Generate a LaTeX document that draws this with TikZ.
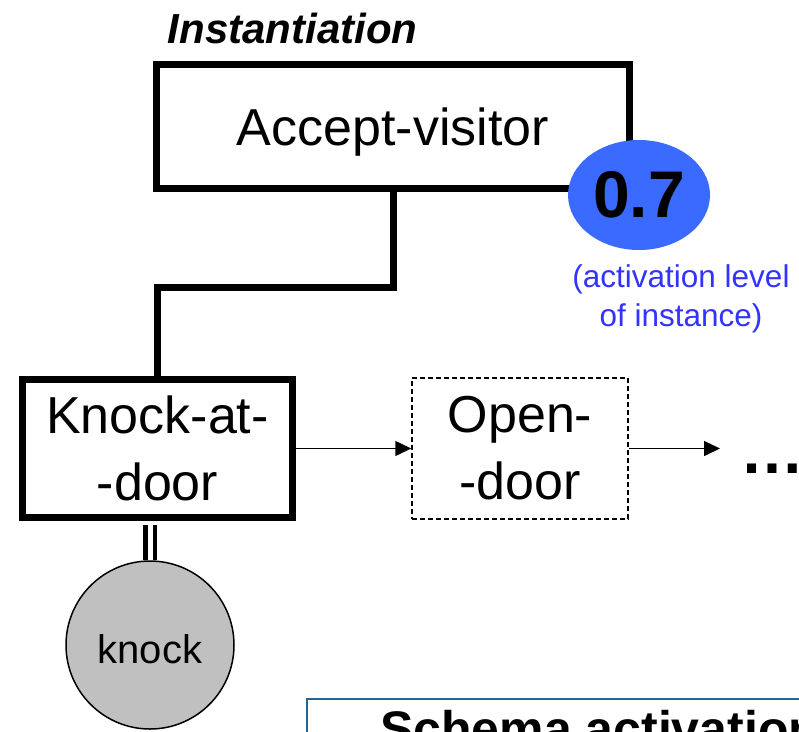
\documentclass[tikz,border=0pt]{standalone}
\usepackage{fontspec}
\setmainfont{Liberation Sans}
\usetikzlibrary{arrows.meta,shapes.geometric}
\definecolor{levelblue}{RGB}{58,106,255}
\definecolor{notetext}{RGB}{51,51,255}
\definecolor{paneledge}{RGB}{40,100,145}
\definecolor{inputgrey}{RGB}{192,192,192}
\tikzset{
  schemabox/.style={draw, line width=7pt, inner sep=0pt, fill=white},
  nextbox/.style={draw, dash pattern=on 5pt off 3pt, line width=1.5pt, inner sep=0pt},
  bigtext/.style={font=\fontsize{52}{67}\selectfont, align=center},
  flow/.style={line width=1.5pt, -{Triangle[length=16pt,width=15pt]}},
  hier/.style={line width=7pt, line join=miter},
  inputlink/.style={line width=4.5pt, double=white, double distance=5pt},
}
\begin{document}
\begin{tikzpicture}[x=1pt,y=-1pt]
  \useasboundingbox (0,0) rectangle (799,731);
  \clip (0,0) rectangle (799,731);

  % heading
  \node[font=\fontsize{42}{42}\selectfont\bfseries\itshape, anchor=base, inner sep=0pt]
    (title) at (292.5,43) {Instantiation};

  % schema instances
  \node[schemabox, bigtext, minimum width=473pt, minimum height=124pt, text depth=0pt]
    (accept) at (393,126.5) {Accept-visitor};
  \node[schemabox, bigtext, minimum width=270pt, minimum height=138pt]
    (knockdoor) at (157.5,448.5) {Knock-at-\\-door};
  \node[nextbox, bigtext, minimum width=216pt, minimum height=141pt]
    (opendoor) at (520,448.5) {Open-\\-door};

  % activation level of the instance
  \node[ellipse, fill=levelblue, minimum width=142pt, minimum height=110pt, inner sep=0pt,
        font=\fontsize{66}{66}\selectfont\bfseries]
    (level) at (639,195) {0.7};
  \node[text=notetext, font=\fontsize{31.5}{39}\selectfont, align=center, inner sep=0pt]
    (levelnote) at (681,299) {(activation level\\of instance)};

  % sensory input
  \node[circle, draw, line width=1.5pt, fill=inputgrey, minimum size=168pt, inner sep=0pt,
        font=\fontsize{40}{40}\selectfont, text height=36pt, text depth=0pt]
    (knockin) at (150,645) {knock};

  % continuation of the sequence
  \node[font=\fontsize{64}{64}\selectfont\bfseries, anchor=base west, inner sep=0pt]
    (more) at (740,473) {…};
  \coordinate (moretip) at (720,448.5);

  % partly visible panel
  \node[draw=paneledge, line width=2pt, anchor=north west, minimum width=560pt,
        minimum height=100pt, inner sep=0pt] (panel) at (306,698) {};
  \node[font=\fontsize{50}{50}\selectfont\bfseries, anchor=base west, inner sep=0pt]
    (paneltitle) at (380,746) {Schema activation};

  % connectors
  \draw[hier] (accept.south) -- ++(0,95.5) -| (knockdoor.north);
  \draw[flow] (knockdoor.east) -- (opendoor.west);
  \draw[flow] (opendoor.east) -- (moretip);
  \draw[inputlink, shorten <=3.5pt] (knockdoor.south -| knockin.north) -- (knockin.north);
\end{tikzpicture}
\end{document}
